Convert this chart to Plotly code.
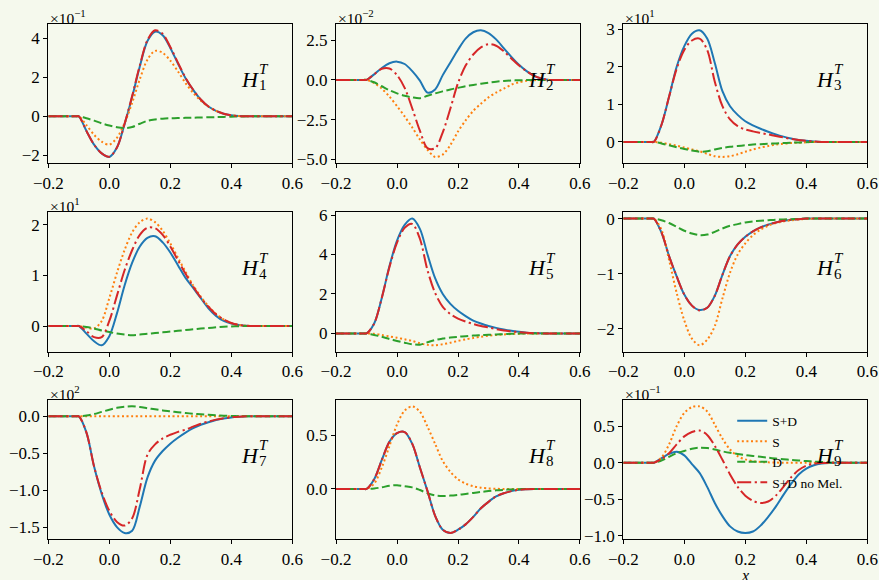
import plotly.graph_objects as go

# Shared abscissa (x) for every response curve
X = [-0.2, -0.11, -0.1, -0.075, -0.05, -0.025, 0.0, 0.025, 0.05, 0.075, 0.1, 0.125,
     0.15, 0.175, 0.2, 0.225, 0.25, 0.275, 0.3, 0.325, 0.35, 0.375, 0.4, 0.425,
     0.45, 0.475, 0.5, 0.55, 0.6]

# Values are given in the units shown on each panel's axis (see SCALE_EXP)
H1_SD = [0, 0, 0, -0.75, -1.45, -1.9, -2.08, -1.6, -0.4, 1.0, 2.55, 3.85, 4.33, 4.15, 3.5, 2.7, 1.95, 1.35, 0.85, 0.5, 0.28, 0.13, 0.05, 0.01, 0, 0, 0, 0, 0]
H1_S = [0, 0, 0, -0.45, -0.95, -1.3, -1.45, -1.1, -0.35, 0.7, 1.9, 2.9, 3.35, 3.25, 2.85, 2.3, 1.7, 1.2, 0.8, 0.5, 0.28, 0.13, 0.05, 0.01, 0, 0, 0, 0, 0]
H1_D = [0, 0, 0, -0.1, -0.22, -0.36, -0.47, -0.56, -0.6, -0.55, -0.38, -0.23, -0.16, -0.12, -0.1, -0.09, -0.08, -0.07, -0.06, -0.05, -0.04, -0.03, -0.02, -0.01, 0, 0, 0, 0, 0]
H1_NM = [0, 0, 0, -0.75, -1.45, -1.9, -2.07, -1.6, -0.38, 1.05, 2.6, 3.9, 4.4, 4.22, 3.55, 2.75, 1.97, 1.36, 0.86, 0.5, 0.28, 0.13, 0.05, 0.01, 0, 0, 0, 0, 0]

H2_SD = [0, 0, 0, 0.35, 0.75, 1.05, 1.15, 1.0, 0.55, -0.05, -0.8, -0.6, 0.3, 1.1, 1.9, 2.6, 3.0, 3.12, 2.95, 2.55, 2.0, 1.45, 0.95, 0.55, 0.25, 0.08, 0, 0, 0]
H2_S = [0, 0, 0, -0.2, -0.55, -1.05, -1.65, -2.3, -3.0, -3.75, -4.4, -4.85, -4.7, -4.1, -3.25, -2.55, -1.95, -1.5, -1.1, -0.8, -0.55, -0.3, -0.15, -0.06, -0.02, 0, 0, 0, 0]
H2_D = [0, 0, 0, -0.15, -0.4, -0.65, -0.85, -1.0, -1.1, -1.15, -1.0, -0.85, -0.72, -0.6, -0.5, -0.4, -0.32, -0.24, -0.17, -0.11, -0.07, -0.04, -0.02, -0.01, 0, 0, 0, 0, 0]
H2_NM = [0, 0, 0, 0.35, 0.7, 0.72, 0.3, -0.5, -1.8, -3.2, -4.3, -4.3, -3.3, -1.8, -0.2, 0.9, 1.6, 2.05, 2.25, 2.15, 1.8, 1.35, 0.9, 0.55, 0.25, 0.08, 0, 0, 0]

H3_SD = [0, 0, 0, 0.45, 1.2, 2.0, 2.55, 2.88, 2.97, 2.75, 2.1, 1.35, 0.95, 0.72, 0.55, 0.44, 0.35, 0.27, 0.2, 0.14, 0.09, 0.05, 0.03, 0.01, 0, 0, 0, 0, 0]
H3_S = [0, 0, 0, -0.02, -0.06, -0.1, -0.15, -0.2, -0.25, -0.32, -0.38, -0.4, -0.38, -0.33, -0.26, -0.2, -0.15, -0.11, -0.07, -0.05, -0.03, -0.02, -0.01, 0, 0, 0, 0, 0, 0]
H3_D = [0, 0, 0, -0.04, -0.09, -0.14, -0.19, -0.23, -0.26, -0.25, -0.2, -0.16, -0.13, -0.11, -0.09, -0.07, -0.06, -0.05, -0.04, -0.03, -0.02, -0.015, -0.01, 0, 0, 0, 0, 0, 0]
H3_NM = [0, 0, 0, 0.45, 1.2, 1.95, 2.45, 2.7, 2.75, 2.45, 1.6, 0.95, 0.6, 0.42, 0.33, 0.28, 0.24, 0.2, 0.16, 0.12, 0.08, 0.05, 0.03, 0.01, 0, 0, 0, 0, 0]

H4_SD = [0, 0, 0, -0.15, -0.3, -0.38, -0.2, 0.25, 0.8, 1.25, 1.57, 1.74, 1.77, 1.65, 1.45, 1.2, 0.95, 0.75, 0.55, 0.35, 0.2, 0.1, 0.05, 0.02, 0.005, 0, 0, 0, 0]
H4_S = [0, 0, 0, -0.03, -0.05, 0.1, 0.55, 1.05, 1.5, 1.85, 2.05, 2.12, 2.05, 1.88, 1.63, 1.35, 1.07, 0.8, 0.58, 0.39, 0.24, 0.13, 0.06, 0.02, 0.005, 0, 0, 0, 0]
H4_D = [0, 0, 0, -0.02, -0.05, -0.09, -0.12, -0.15, -0.17, -0.18, -0.17, -0.155, -0.14, -0.125, -0.11, -0.095, -0.08, -0.065, -0.05, -0.038, -0.026, -0.016, -0.008, -0.003, 0, 0, 0, 0, 0]
H4_NM = [0, 0, 0, -0.1, -0.22, -0.22, 0.1, 0.6, 1.1, 1.5, 1.8, 1.94, 1.93, 1.8, 1.57, 1.3, 1.03, 0.78, 0.56, 0.38, 0.23, 0.13, 0.06, 0.02, 0.005, 0, 0, 0, 0]

H5_SD = [0, 0, 0, 0.5, 1.8, 3.4, 4.7, 5.5, 5.82, 5.3, 4.0, 2.8, 2.0, 1.5, 1.15, 0.88, 0.65, 0.5, 0.38, 0.28, 0.2, 0.13, 0.08, 0.04, 0.02, 0.005, 0, 0, 0]
H5_S = [0, 0, 0, -0.02, -0.08, -0.15, -0.22, -0.3, -0.38, -0.5, -0.58, -0.6, -0.55, -0.47, -0.38, -0.3, -0.23, -0.17, -0.12, -0.08, -0.05, -0.03, -0.015, -0.005, 0, 0, 0, 0, 0]
H5_D = [0, 0, 0, -0.08, -0.17, -0.28, -0.38, -0.47, -0.55, -0.57, -0.45, -0.33, -0.26, -0.21, -0.17, -0.14, -0.11, -0.09, -0.07, -0.05, -0.035, -0.02, -0.01, -0.005, 0, 0, 0, 0, 0]
H5_NM = [0, 0, 0, 0.5, 1.8, 3.35, 4.6, 5.35, 5.55, 4.8, 3.2, 2.05, 1.35, 0.98, 0.75, 0.6, 0.48, 0.38, 0.3, 0.22, 0.15, 0.1, 0.06, 0.03, 0.01, 0, 0, 0, 0]

H6_SD = [0, 0, 0, -0.25, -0.68, -1.05, -1.38, -1.58, -1.66, -1.62, -1.4, -1.02, -0.68, -0.47, -0.33, -0.23, -0.16, -0.11, -0.07, -0.04, -0.02, -0.01, 0, 0, 0, 0, 0, 0, 0]
H6_S = [0, 0, 0, -0.2, -0.75, -1.35, -1.85, -2.18, -2.3, -2.2, -1.95, -1.45, -0.98, -0.65, -0.45, -0.3, -0.2, -0.13, -0.08, -0.05, -0.03, -0.015, -0.005, 0, 0, 0, 0, 0, 0]
H6_D = [0, 0, 0, -0.03, -0.08, -0.15, -0.22, -0.27, -0.3, -0.29, -0.24, -0.18, -0.13, -0.1, -0.07, -0.05, -0.04, -0.03, -0.02, -0.015, -0.01, -0.005, 0, 0, 0, 0, 0, 0, 0]
H6_NM = [0, 0, 0, -0.25, -0.68, -1.05, -1.38, -1.58, -1.67, -1.62, -1.4, -1.02, -0.68, -0.47, -0.33, -0.23, -0.16, -0.11, -0.07, -0.04, -0.02, -0.01, 0, 0, 0, 0, 0, 0, 0]

H7_SD = [0, 0, 0, -0.22, -0.68, -1.05, -1.33, -1.5, -1.58, -1.55, -1.22, -0.83, -0.6, -0.47, -0.37, -0.29, -0.22, -0.16, -0.115, -0.08, -0.05, -0.03, -0.015, -0.006, 0, 0, 0, 0, 0]
H7_S = [0, 0, 0, 0, 0, 0, 0, 0, 0, 0, 0, 0, 0, 0, 0, 0, 0, 0, 0, 0, 0, 0, 0, 0, 0, 0, 0, 0, 0]
H7_D = [0, 0, 0, 0.01, 0.03, 0.06, 0.09, 0.115, 0.13, 0.135, 0.125, 0.11, 0.095, 0.08, 0.068, 0.056, 0.045, 0.035, 0.027, 0.02, 0.014, 0.009, 0.005, 0.002, 0, 0, 0, 0, 0]
H7_NM = [0, 0, 0, -0.22, -0.68, -1.03, -1.28, -1.43, -1.48, -1.38, -0.98, -0.52, -0.38, -0.3, -0.25, -0.21, -0.18, -0.14, -0.1, -0.07, -0.045, -0.025, -0.012, -0.005, 0, 0, 0, 0, 0]

H8_SD = [0, 0, 0, 0.09, 0.27, 0.44, 0.52, 0.53, 0.42, 0.2, -0.02, -0.25, -0.38, -0.41, -0.38, -0.33, -0.26, -0.18, -0.12, -0.07, -0.04, -0.02, -0.008, -0.003, 0, 0, 0, 0, 0]
H8_S = [0, 0, 0, 0.05, 0.2, 0.4, 0.6, 0.73, 0.77, 0.72, 0.58, 0.42, 0.26, 0.16, 0.09, 0.05, 0.025, 0.012, 0.005, 0.002, 0, 0, 0, 0, 0, 0, 0, 0, 0]
H8_D = [0, 0, 0, 0.005, 0.015, 0.03, 0.035, 0.025, 0.015, -0.01, -0.04, -0.06, -0.065, -0.062, -0.055, -0.046, -0.037, -0.028, -0.02, -0.013, -0.008, -0.004, -0.002, 0, 0, 0, 0, 0, 0]
H8_NM = [0, 0, 0, 0.09, 0.27, 0.44, 0.52, 0.53, 0.42, 0.2, -0.02, -0.25, -0.38, -0.41, -0.38, -0.33, -0.26, -0.18, -0.12, -0.07, -0.04, -0.02, -0.008, -0.003, 0, 0, 0, 0, 0]

H9_SD = [0, 0, 0, 0.06, 0.12, 0.15, 0.1, -0.02, -0.14, -0.33, -0.55, -0.73, -0.87, -0.94, -0.96, -0.94, -0.86, -0.74, -0.6, -0.44, -0.29, -0.16, -0.08, -0.035, -0.012, -0.003, 0, 0, 0]
H9_S = [0, 0, 0, 0.07, 0.25, 0.5, 0.68, 0.76, 0.77, 0.7, 0.52, 0.33, 0.18, 0.09, 0.045, 0.02, 0.01, 0.005, 0.002, 0, 0, 0, 0, 0, 0, 0, 0, 0, 0]
H9_D = [0, 0, 0, 0.03, 0.08, 0.13, 0.16, 0.19, 0.205, 0.2, 0.18, 0.155, 0.135, 0.12, 0.105, 0.092, 0.08, 0.068, 0.057, 0.047, 0.038, 0.03, 0.022, 0.015, 0.009, 0.004, 0, 0, 0]
H9_NM = [0, 0, 0, 0.05, 0.13, 0.25, 0.36, 0.42, 0.44, 0.38, 0.23, 0.04, -0.16, -0.33, -0.45, -0.52, -0.55, -0.53, -0.45, -0.33, -0.2, -0.1, -0.04, -0.015, -0.005, 0, 0, 0, 0]

PANELS = [
    (H1_SD, H1_S, H1_D, H1_NM),
    (H2_SD, H2_S, H2_D, H2_NM),
    (H3_SD, H3_S, H3_D, H3_NM),
    (H4_SD, H4_S, H4_D, H4_NM),
    (H5_SD, H5_S, H5_D, H5_NM),
    (H6_SD, H6_S, H6_D, H6_NM),
    (H7_SD, H7_S, H7_D, H7_NM),
    (H8_SD, H8_S, H8_D, H8_NM),
    (H9_SD, H9_S, H9_D, H9_NM),
]

# Power-of-ten offset printed above each panel (None = no offset)
SCALE_EXP = [-1, -2, 1, 1, None, None, 2, None, -1]

# y tick values per panel
Y_TICKS = [
    [-2, 0, 2, 4],
    [-5.0, -2.5, 0.0, 2.5],
    [0, 1, 2, 3],
    [0, 1, 2],
    [0, 2, 4, 6],
    [-2, -1, 0],
    [-1.5, -1.0, -0.5, 0.0],
    [0.0, 0.5],
    [-1.0, -0.5, 0.0, 0.5],
]
Y_TICK_DECIMALS = [0, 1, 0, 0, 0, 0, 1, 1, 1]
X_TICKS = [-0.2, 0.0, 0.2, 0.4, 0.6]

SERIES_NAMES = ["S+D", "S", "D", "S+D no Mel."]
COLORS = ["#1f77b4", "#ff7f0e", "#2ca02c", "#d62728"]
DASHES = ["solid", "2px,2.6px", "8px,3.5px", "14px,3.5px,2.2px,3.5px"]

BG = "#f5f9ed"
FONT = "Liberation Serif"


def fmt(v, d):
    s = f"{v:.{d}f}"
    return s.replace("-", "\u2212")


def yrange(series):
    lo = min(min(s) for s in series)
    hi = max(max(s) for s in series)
    pad = 0.05 * (hi - lo)
    return [lo - pad, hi + pad]


# Subplot placement (paper fractions)
X_DOMAINS = [[0.0550, 0.3325], [0.3823, 0.6598], [0.7091, 0.9867]]
Y_DOMAINS = [[0.7185, 0.9586], [0.3938, 0.6340], [0.0702, 0.3103]]

fig = go.Figure()
layout = dict(
    width=879, height=580,
    margin=dict(l=0, r=0, t=0, b=0, autoexpand=False),
    paper_bgcolor=BG, plot_bgcolor=BG,
    font=dict(family=FONT, size=17, color="#000000"),
    showlegend=True,
    legend=dict(
        x=0.833, y=0.301, xanchor="left", yanchor="top",
        bgcolor="rgba(0,0,0,0)", borderwidth=0,
        font=dict(family=FONT, size=13.5, color="#000000"),
        itemwidth=30, tracegroupgap=0,
    ),
)
annotations = []

for i, series in enumerate(PANELS):
    n = i + 1
    r, c = divmod(i, 3)
    sfx = "" if n == 1 else str(n)
    xa, ya = "x" + sfx, "y" + sfx

    for k, ys in enumerate(series):
        fig.add_trace(go.Scatter(
            x=X, y=ys, mode="lines", xaxis=xa, yaxis=ya,
            name=SERIES_NAMES[k],
            line=dict(color=COLORS[k], width=2, dash=DASHES[k], shape="spline", smoothing=0.9),
            showlegend=(n == 9), legendrank=k + 1,
        ))

    axis_common = dict(
        showline=True, linecolor="#000000", linewidth=1.2, mirror=True,
        ticks="outside", ticklen=4, tickwidth=1.1, tickcolor="#000000",
        showgrid=False, zeroline=False, automargin=False,
        tickfont=dict(family=FONT, size=17, color="#000000"),
    )
    layout["xaxis" + sfx] = dict(
        axis_common, domain=X_DOMAINS[c], anchor=ya, range=[-0.2, 0.6],
        tickvals=X_TICKS, ticktext=[fmt(v, 1) for v in X_TICKS],
    )
    layout["yaxis" + sfx] = dict(
        axis_common, domain=Y_DOMAINS[r], anchor=xa, range=yrange(series),
        tickvals=Y_TICKS[i], ticktext=[fmt(v, Y_TICK_DECIMALS[i]) for v in Y_TICKS[i]],
    )

    # Panel label H_n^T
    xr, yr = xa + " domain", ya + " domain"
    annotations.append(dict(
        text="<i>H</i>", xref=xr, yref=yr, x=0.78, y=0.602,
        xanchor="left", yanchor="middle", showarrow=False,
        font=dict(family=FONT, size=22, color="#000000"),
    ))
    annotations.append(dict(
        text="<i>T</i>", xref=xr, yref=yr, x=0.78, y=0.602, xshift=18, yshift=10,
        xanchor="left", yanchor="middle", showarrow=False,
        font=dict(family=FONT, size=15, color="#000000"),
    ))
    annotations.append(dict(
        text=str(n), xref=xr, yref=yr, x=0.78, y=0.602, xshift=18, yshift=-6,
        xanchor="left", yanchor="middle", showarrow=False,
        font=dict(family=FONT, size=15, color="#000000"),
    ))

    # Offset text above the y axis
    if SCALE_EXP[i] is not None:
        e = SCALE_EXP[i]
        annotations.append(dict(
            text="\u00d710<sup>" + fmt(e, 0) + "</sup>", xref=xr, yref=yr, x=0, y=1,
            xanchor="left", yanchor="bottom", showarrow=False, yshift=-5,
            font=dict(family=FONT, size=15.5, color="#000000"),
        ))

# x-axis label below the bottom-right panel
annotations.append(dict(
    text="<i>x</i>", xref="x9 domain", yref="paper", x=0.5, y=1 - 575 / 580,
    xanchor="center", yanchor="middle", showarrow=False,
    font=dict(family=FONT, size=16, color="#000000"),
))

layout["annotations"] = annotations
fig.update_layout(**layout)
fig.write_html("out.html")
